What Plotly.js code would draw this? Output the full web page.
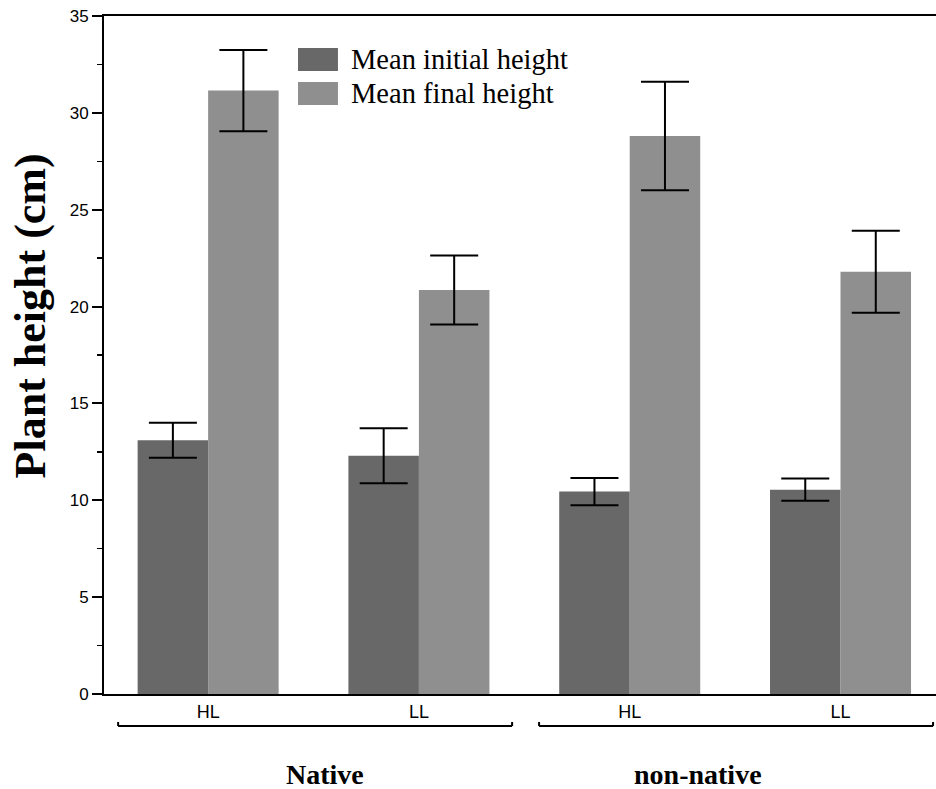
<!DOCTYPE html>
<html>
<head>
<meta charset="utf-8">
<script src="https://cdn.plot.ly/plotly-3.0.1.min.js"></script>
<style>html,body{margin:0;padding:0;background:#fff;}#chart{width:936px;height:789px;}</style>
</head>
<body>
<div id="chart"></div>
<script>
// ---- data ----
const positions = [0, 1, 2, 3];
const lightLabels = ['HL', 'LL', 'HL', 'LL'];
const groupNames = ['Native', 'non-native'];
const seriesNames = ['Mean initial height', 'Mean final height'];
const yTitle = 'Plant height (cm)';
const initialMean = [13.1, 12.3, 10.45, 10.55];
const initialErr = [0.9, 1.42, 0.7, 0.57];
const finalMean = [31.15, 20.86, 28.8, 21.8];
const finalErr = [2.1, 1.78, 2.8, 2.12];
const yTicks = [0, 5, 10, 15, 20, 25, 30, 35];

const darkCol = '#686868';
const lightCol = '#8f8f8f';
const SERIF = '"Liberation Serif", "Times New Roman", Times, serif';
const SANS = '"Liberation Sans", Arial, Helvetica, sans-serif';

const errStyle = {type: 'data', visible: true, color: '#000', thickness: 2, width: 24};

const traces = [
  {type: 'bar', name: seriesNames[0], x: positions, y: initialMean,
   marker: {color: darkCol, line: {width: 0}},
   error_y: Object.assign({array: initialErr}, errStyle)},
  {type: 'bar', name: seriesNames[1], x: positions, y: finalMean,
   marker: {color: lightCol, line: {width: 0}},
   error_y: Object.assign({array: finalErr}, errStyle)}
];

// legend (manual, to match swatch size)
const legY = [[0.9189, 0.9528], [0.8687, 0.9027]];
const shapes = [];
const annotations = [];
[darkCol, lightCol].forEach((c, i) => {
  shapes.push({type: 'rect', xref: 'paper', yref: 'paper', x0: 0.2332, x1: 0.2812,
    y0: legY[i][0], y1: legY[i][1], fillcolor: c, line: {width: 0}});
  annotations.push({xref: 'paper', yref: 'paper', x: 0.2945, y: (legY[i][0] + legY[i][1]) / 2,
    xanchor: 'left', yanchor: 'middle', showarrow: false, text: seriesNames[i],
    font: {family: SERIF, size: 28.5, color: '#000'}});
});

// group brackets
const brackets = [[-0.427, 1.442], [1.570, 3.439]];
const labelX = [0.555, 2.325];
brackets.forEach((b, i) => {
  const ln = {color: '#000', width: 2};
  shapes.push({type: 'line', xref: 'x', yref: 'paper', x0: b[0], x1: b[1], y0: -0.0472, y1: -0.0472, line: ln});
  shapes.push({type: 'line', xref: 'x', yref: 'paper', x0: b[0], x1: b[0], y0: -0.0472, y1: -0.0413, line: ln});
  shapes.push({type: 'line', xref: 'x', yref: 'paper', x0: b[1], x1: b[1], y0: -0.0472, y1: -0.0413, line: ln});
  annotations.push({xref: 'x', yref: 'paper', x: labelX[i], y: -0.119, xanchor: 'center', yanchor: 'middle',
    showarrow: false, text: '<b>' + groupNames[i] + '</b>',
    font: {family: SERIF, size: 28, color: '#000'}});
});

// y-axis title as rotated annotation
annotations.push({xref: 'paper', yref: 'paper', x: -0.0889, y: 0.557, xanchor: 'center', yanchor: 'middle',
  textangle: -90, showarrow: false, text: '<b>' + yTitle + '</b>',
  font: {family: SERIF, size: 44, color: '#000'}});

const layout = {
  width: 936, height: 789,
  margin: {l: 104, r: 0, t: 16, b: 95},
  paper_bgcolor: '#fff', plot_bgcolor: '#fff',
  barmode: 'group', bargap: 0.331, bargroupgap: 0,
  showlegend: false,
  font: {family: SANS, color: '#000'},
  xaxis: {
    range: [-0.494, 3.453], tickvals: positions, ticktext: lightLabels,
    showline: true, linecolor: '#000', linewidth: 2, mirror: true,
    ticks: '', showgrid: false, zeroline: false,
    tickfont: {family: SANS, size: 18, color: '#000'}
  },
  yaxis: {
    range: [0, 35], tickvals: yTicks, showline: true, linecolor: '#000', linewidth: 2,
    ticks: 'outside', ticklen: 10, tickwidth: 2, tickcolor: '#000',
    minor: {dtick: 2.5, ticks: 'outside', ticklen: 5, tickwidth: 1.5, tickcolor: '#000', showgrid: false},
    showgrid: false, zeroline: false,
    tickfont: {family: SANS, size: 17, color: '#000'}
  },
  shapes: shapes,
  annotations: annotations
};

Plotly.newPlot('chart', traces, layout, {displayModeBar: false, staticPlot: true});
</script>
</body>
</html>
